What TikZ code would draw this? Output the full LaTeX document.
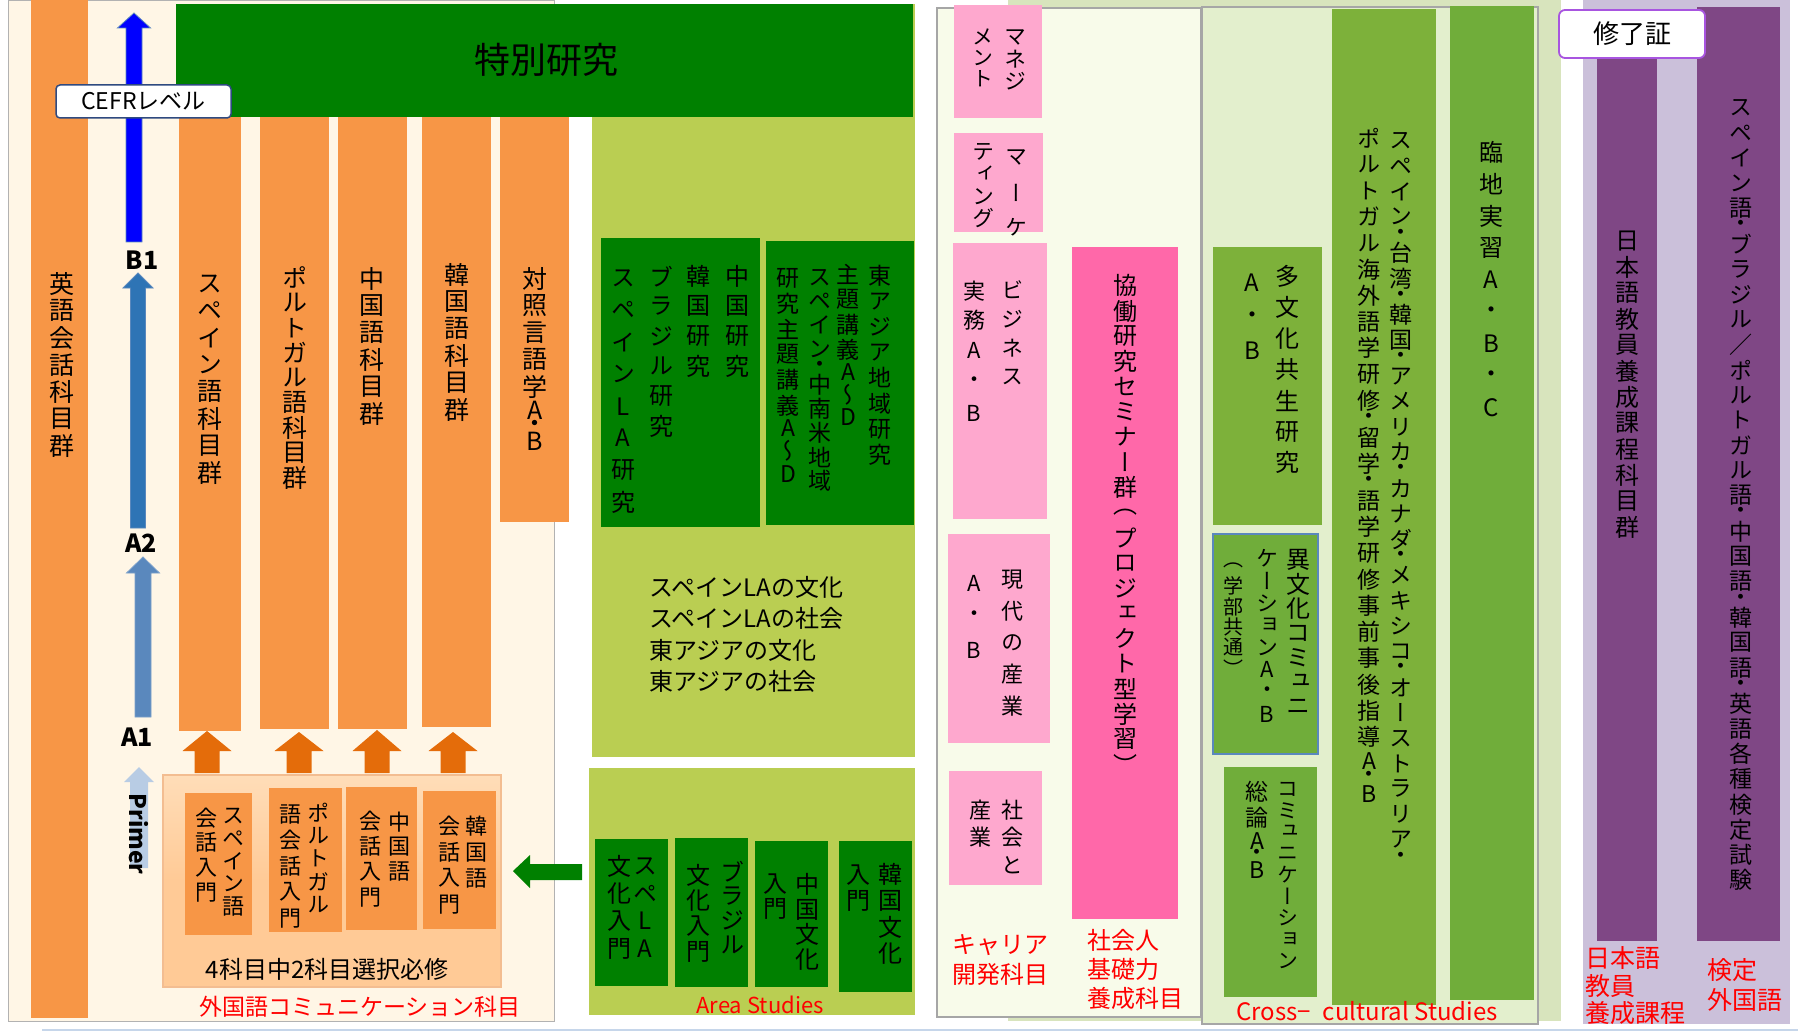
\documentclass[tikz,border=0pt]{standalone}
\usepackage{fontspec}
\setmainfont{Noto Sans CJK JP}
\newfontfamily\jpv[RawFeature=+vert]{Noto Sans CJK JP}
\definecolor{cream}{HTML}{FFF6E6}
\definecolor{org}{HTML}{F79646}
\definecolor{orgdk}{HTML}{E46C0A}
\definecolor{peach}{HTML}{FFCA96}
\definecolor{peachl}{HTML}{FFDDB8}
\definecolor{dkgreen}{HTML}{008000}
\definecolor{lime}{HTML}{BACE52}
\definecolor{careerbg}{HTML}{F8FBEA}
\definecolor{pinkl}{HTML}{FEA8CE}
\definecolor{pinkh}{HTML}{FF68A9}
\definecolor{sage}{HTML}{D8E4BD}
\definecolor{crossbg}{HTML}{E3EFCD}
\definecolor{grn}{HTML}{7DB13A}
\definecolor{grn2}{HTML}{70AD3A}
\definecolor{lav}{HTML}{CBC0DA}
\definecolor{purp}{HTML}{7F4785}
\definecolor{purpb}{HTML}{A855E0}
\definecolor{cefrb}{HTML}{2F4A80}
\definecolor{ablue}{HTML}{0000FF}
\definecolor{ablue2}{HTML}{2E74B5}
\definecolor{ablue3}{HTML}{5A88BD}
\definecolor{ablue4}{HTML}{B8CCE4}
\definecolor{lineb}{HTML}{C6D6EA}
\definecolor{redt}{HTML}{FF0000}
\newlength\vpA \newlength\vpL \newlength\vpD
\def\vstackend{\vstackend}
\def\vcell#1#2{\vbox to #1{\vss\hbox to 1em{\hss#2\hss}\vss}}
\def\vstackA#1{%
  \ifx#1\vstackend\else
    \ifx#1・\vcell\vpD{#1}\else
      \ifnum`#1<128 \vcell\vpL{#1}\else\vcell\vpA{#1}\fi
    \fi
    \expandafter\vstackA
  \fi}
\NewDocumentCommand\vt{O{1.1em}O{#1}O{#2}m}{%
  \setlength\vpA{#1}\setlength\vpL{#2}\setlength\vpD{#3}%
  \vbox{\offinterlineskip\vstackA#4\vstackend}}
\newcommand\fs[1]{\fontsize{#1}{#1}\selectfont}
\newcommand\blkup[7]{\path[#7] (#1-#5/2,#4) -- (#1-#5/2,#3) -- (#1-#6/2,#3) -- (#1,#2) -- (#1+#6/2,#3) -- (#1+#5/2,#3) -- (#1+#5/2,#4) -- cycle;}
\tikzset{
  vtx/.style={inner sep=0pt, anchor=north, font=\jpv\fs{#1}},
  vtx/.default=24,
  htx/.style={inner sep=0pt, font=\fs{#1}},
  htx/.default=24,
  redlbl/.style={inner sep=0pt, anchor=west, align=left, text=redt},
  panel/.style={draw=black!35, line width=1.2pt},
}
\begin{document}
\begin{tikzpicture}[x=1pt,y=-1pt]
\useasboundingbox (0,0) rectangle (1798,1032);
\fill[white] (0,0) rectangle (1798,1032);
% ---------- left panel
\path[fill=cream, draw=black!30, line width=1pt] (8,1) rectangle (554,1021);
\fill[org] (31,0) rectangle (88,1018);
\fill[lime] (592,4) rectangle (915,757);
\fill[dkgreen] (176,4) rectangle (913,117);
\node[htx=36] (tokubetsu) at (546,60) {特別研究};
\fill[org] (179,117) rectangle (241,731);
\fill[org] (260,117) rectangle (329,729);
\fill[org] (338,117) rectangle (407,729);
\fill[org] (422,117) rectangle (491,727);
\fill[org] (500,117) rectangle (569,522);
\node[vtx=25] (t1) at (62,270) {\vt[27pt]{英語会話科目群}};
\node[vtx=25] (t2) at (210,270) {\vt[27pt]{スペイン語科目群}};
\node[vtx=25] (t3) at (295,265) {\vt[25pt]{ポルトガル語科目群}};
\node[vtx=25] (t4) at (372,265) {\vt[27pt]{中国語科目群}};
\node[vtx=25] (t5) at (457,261) {\vt[27pt]{韓国語科目群}};
\node[vtx=25] (t6) at (535,265) {\vt[27pt][21pt][10pt]{対照言語学A・B}};
% CEFR arrows
\blkup{134}{13}{28}{242}{16}{33}{fill=ablue, draw=ablue3, line width=0.8pt}
\blkup{138}{273}{288}{528}{15}{30}{fill=ablue2, draw=ablue3, line width=0.8pt}
\blkup{143}{557}{573}{717}{16}{33}{fill=ablue3, draw=ablue3!80, line width=0.8pt}
\blkup{139}{767}{782}{868}{18}{30}{fill=ablue4}
\node[draw=cefrb, fill=white, line width=1.5pt, rounded corners=4pt, minimum width=175pt, minimum height=33pt, inner sep=0pt, font=\fs{23}] (cefr) at (143.5,101.5) {CEFRレベル};
\node[htx=25, font=\bfseries\fs{25}] (b1) at (142,260) {B1};
\node[htx=25, font=\bfseries\fs{25}] (a2) at (141,543) {A2};
\node[htx=25, font=\bfseries\fs{25}] (a1) at (137,737) {A1};
\node[htx=23, font=\bfseries\fs{23}, rotate=-90] (primer) at (139,834) {Primer};
% orange small arrows
\blkup{207}{731}{751}{773}{25}{49}{fill=orgdk}
\blkup{299}{732}{751}{773}{25}{49}{fill=orgdk}
\blkup{377}{730}{751}{773}{25}{49}{fill=orgdk}
\blkup{453}{732}{751}{773}{25}{49}{fill=orgdk}
% intro box
\path[top color=peachl, bottom color=peach, middle color=peach, draw=orgdk!45, line width=1.2pt] (163,775) rectangle (501,987);
\fill[org] (185,793) rectangle (252,935);
\fill[org] (269,788) rectangle (342,932);
\fill[org] (346,787) rectangle (417,930);
\fill[org] (423,791) rectangle (496,929);
\node[vtx=22] (s1r) at (233,805) {\vt[22.5pt]{スペイン語}};
\node[vtx=22] (s1l) at (206,805) {\vt[25pt]{会話入門}};
\node[vtx=22] (s2r) at (318,801) {\vt[23pt]{ポルトガル}};
\node[vtx=22] (s2l) at (290,801) {\vt[26pt]{語会話入門}};
\node[vtx=22] (s3r) at (399,810) {\vt[24.5pt]{中国語}};
\node[vtx=22] (s3l) at (370,808) {\vt[25.5pt]{会話入門}};
\node[vtx=22] (s4r) at (476,813) {\vt[26pt]{韓国語}};
\node[vtx=22] (s4l) at (449,813) {\vt[26pt]{会話入門}};
\node[htx=24] (sel) at (327,969) {4科目中2科目選択必修};
\node[htx=23, text=redt] (gaikoku) at (360,1007) {外国語コミュニケーション科目};
% green arrow
\fill[dkgreen] (513,871) -- (530,855) -- (530,864) -- (582,864) -- (582,880) -- (530,880) -- (530,888) -- cycle;
% ---------- area studies
\fill[dkgreen] (601,238) rectangle (760,527);
\fill[dkgreen] (766,241) rectangle (914,525);
\node[vtx=24] (a1c) at (737,261) {\vt[30pt]{中国研究}};
\node[vtx=24] (a2c) at (698,261) {\vt[30pt]{韓国研究}};
\node[vtx=24] (a3c) at (661,261) {\vt[30pt]{ブラジル研究}};
\node[vtx=24] (a4c) at (623,262) {\vt[32pt]{スペインLA研究}};
\node[vtx=23] (b1c) at (880,263) {\vt[25.5pt][20pt][12pt]{東アジア地域研究}};
\node[vtx=23] (b2c) at (848,262) {\vt[25pt][20pt][12pt]{主題講義A～D}};
\node[vtx=23] (b3c) at (820,265) {\vt[24pt][20pt][12pt]{スペイン・中南米地域}};
\node[vtx=23] (b4c) at (788,265) {\vt[25.5pt][20pt][12pt]{研究主題講義A～D}};
\node[inner sep=0pt, anchor=north west, align=left, font=\fontsize{24}{31.5}\selectfont] (culture) at (649,576) {スペインLAの文化\\スペインLAの社会\\東アジアの文化\\東アジアの社会};
\fill[lime] (589,768) rectangle (915,1015);
\fill[dkgreen] (595,839) rectangle (668,986);
\fill[dkgreen] (675,838) rectangle (748,987);
\fill[dkgreen] (755,841) rectangle (828,987);
\fill[dkgreen] (839,841) rectangle (912,992);
\node[vtx=24] (c1r) at (645,852) {\vt[27.5pt]{スペLA}};
\node[vtx=24] (c1l) at (619,852) {\vt[27.5pt]{文化入門}};
\node[vtx=24] (c2r) at (732,859) {\vt[24.5pt]{ブラジル}};
\node[vtx=24] (c2l) at (698,862) {\vt[25.5pt]{文化入門}};
\node[vtx=24] (c3r) at (807,872) {\vt[25pt]{中国文化}};
\node[vtx=24] (c3l) at (775,872) {\vt[24.5pt]{入門}};
\node[vtx=24] (c4r) at (890,861) {\vt[26.5pt]{韓国文化}};
\node[vtx=24] (c4l) at (858,862) {\vt[25.5pt]{入門}};
\node[htx=22, text=redt] (area) at (760,1005) {Area Studies};
% ---------- sage background, career panel
\fill[sage] (1008,0) rectangle (1561,1021);
\path[panel, fill=careerbg] (937,8) rectangle (1201,1017);
\fill[pinkl] (954,5) rectangle (1042,118);
\fill[pinkl] (954,133) rectangle (1043,232);
\fill[pinkl] (953,243) rectangle (1047,519);
\fill[pinkl] (948,534) rectangle (1050,743);
\fill[pinkl] (949,771) rectangle (1042,885);
\fill[pinkh] (1072,247) rectangle (1178,919);
\node[vtx=22] (m1r) at (1015,26) {\vt[22pt]{マネジ}};
\node[vtx=21] (m1l) at (983,26) {\vt[21pt]{メント}};
\node[vtx=22] (k1r) at (1016,140) {\vt[35pt]{マーケ}};
\node[vtx=22] (k1l) at (983,141) {\vt[22pt]{ティング}};
\node[vtx=22] (bz1r) at (1012,275) {\vt[29pt]{ビジネス}};
\node[vtx=22] (bz1l) at (974,276) {\vt[29pt][33pt][30pt]{実務A・B}};
\node[vtx=22] (g1r) at (1012,564) {\vt[31.5pt]{現代の産業}};
\node[vtx=22] (g1l) at (974,566) {\vt[33.5pt]{A・B}};
\node[vtx=22] (sh1r) at (1012,796) {\vt[27.5pt]{社会と}};
\node[vtx=22] (sh1l) at (980,796) {\vt[27.5pt]{産業}};
\node[vtx=24] (kd) at (1125,273) {\vt[25.2pt]{協働研究セミナー群（プロジェクト型学習）}};
\node[redlbl, font=\fontsize{24}{30}\selectfont] (career) at (952,960) {キャリア\\開発科目};
\node[redlbl, font=\fontsize{24}{29}\selectfont] (kiso) at (1087,969) {社会人\\基礎力\\養成科目};
% ---------- cross-cultural panel
\path[panel, fill=crossbg] (1202,7) rectangle (1538,1024);
\fill[grn] (1213,247) rectangle (1322,525);
\fill[grn] (1332,9) rectangle (1436,1005);
\fill[grn2] (1450,6) rectangle (1534,1000);
\path[fill=grn2, draw=ablue3, line width=1.5pt] (1213,534) rectangle (1318,754);
\fill[grn2] (1224,767) rectangle (1317,997);
\node[vtx=24] (ta1r) at (1287,261) {\vt[31pt]{多文化共生研究}};
\node[vtx=24] (ta1l) at (1252,266) {\vt[34pt]{A・B}};
\node[vtx=23] (tl1) at (1401,128) {\vt[25.3pt][22pt][11pt]{スペイン・台湾・韓国・アメリカ・カナダ・メキシコ・オーストラリア・}};
\node[vtx=23] (tl2) at (1369,125) {\vt[26.2pt][22pt][11pt]{ポルトガル海外語学研修・留学・語学研修事前事後指導A・B}};
\node[vtx=24] (rc) at (1491,136) {\vt[32pt]{臨地実習A・B・C}};
\node[vtx=24] (ib1) at (1298,547) {\vt[24.5pt]{異文化コミュニ}};
\node[vtx=22] (ib2) at (1267,547) {\vt[22.3pt]{ケーションA・B}};
\node[vtx=20] (ib3) at (1233,555) {\vt[20.5pt]{（学部共通）}};
\node[vtx=21] (cm1) at (1288,778) {\vt[21.5pt]{コミュニケーション}};
\node[vtx=23] (cm2) at (1257,778) {\vt[26.5pt][19pt][10pt]{総論A・B}};
\node[htx=24, anchor=west, text=redt] (cross) at (1236,1011) {Cross−\hspace{12pt}cultural Studies};
% ---------- certificate panel
\fill[lav] (1583,0) rectangle (1790,1024);
\fill[purp] (1597,40) rectangle (1657,941);
\fill[purp] (1697,7) rectangle (1780,941);
\node[draw=purpb, fill=white, line width=1.8pt, rounded corners=6pt, minimum width=146pt, minimum height=48pt, inner sep=0pt, font=\fs{26}] (shuryo) at (1632,34) {修了証};
\node[vtx=24] (p1) at (1627,228) {\vt[26pt]{日本語教員養成課程科目群}};
\node[vtx=23] (p2) at (1741,95) {\vt[25.1pt][22pt][11pt]{スペイン語・ブラジル／ポルトガル語・中国語・韓国語・英語各種検定試験}};
\node[redlbl, font=\fontsize{25}{27.5}\selectfont] (nihongo) at (1585,986) {日本語\\教員\\養成課程};
\node[redlbl, font=\fontsize{25}{29.5}\selectfont] (kentei) at (1707,985) {検定\\外国語};
% bottom line
\draw[lineb, line width=2pt] (42,1030) -- (1798,1030);
\end{tikzpicture}
\end{document}
